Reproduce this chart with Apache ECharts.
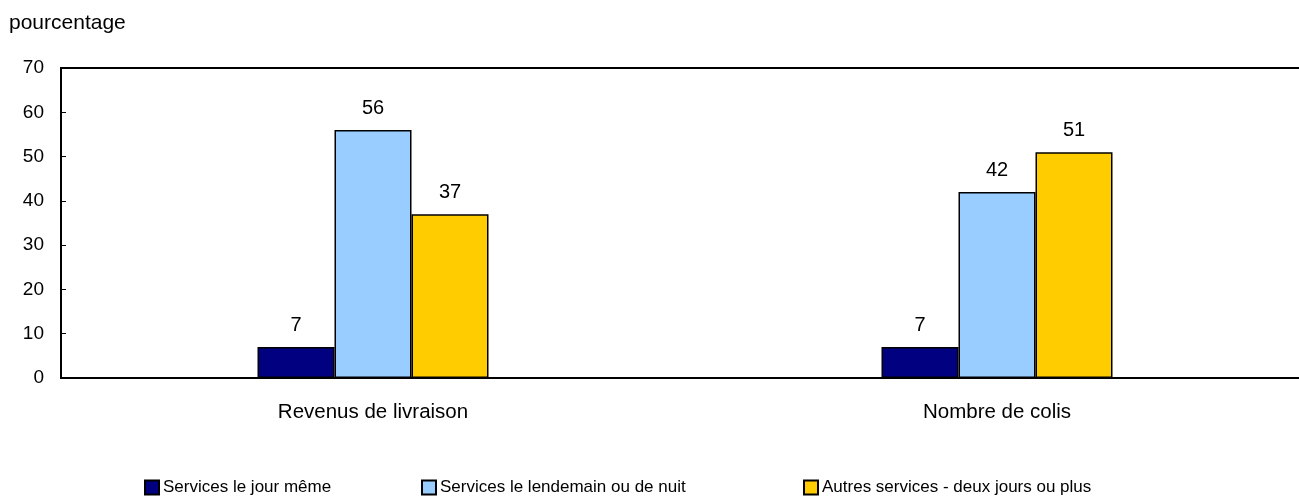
<!DOCTYPE html>
<html>
<head>
<meta charset="utf-8">
<script src="https://cdn.jsdelivr.net/npm/echarts@6/dist/echarts.min.js"></script>
<style>
  html, body { margin: 0; padding: 0; background: #fff; }
  #chart { width: 1299px; height: 497px; }
</style>
</head>
<body>
<div id="chart"></div>
<script>
const categories = ["Revenus de livraison", "Nombre de colis"];
const sameDay = [7, 7];
const nextDay = [56, 42];
const twoPlus = [37, 51];
const seriesNames = [
  "Services le jour même",
  "Services le lendemain ou de nuit",
  "Autres services - deux jours ou plus"
];
const colors = ["#000080", "#99CCFF", "#FFCC00"];

const font = "Liberation Sans, Arial, sans-serif";
const chart = echarts.init(document.getElementById("chart"));

const mkSeries = (name, data, color) => ({
  name: name,
  type: "bar",
  data: data,
  barWidth: 77,
  barGap: "0%",
  itemStyle: { color: color, borderColor: "#000", borderWidth: 1.5 },
  label: {
    show: true, position: "top", distance: 12,
    color: "#000", fontSize: 20, fontFamily: font
  }
});

const mkLegend = (name, left) => ({
  data: [name],
  left: left,
  top: 474,
  itemWidth: 14,
  itemHeight: 14,
  itemGap: 0,
  icon: "rect",
  textStyle: { color: "#000", fontSize: 17, fontFamily: font, padding: [0, 0, 0, -1] }
});

chart.setOption({
  animation: false,
  title: {
    text: "pourcentage",
    left: 4,
    top: 8,
    textStyle: { color: "#000", fontSize: 21, fontWeight: "normal", fontFamily: font }
  },
  legend: [
    mkLegend(seriesNames[0], 139),
    mkLegend(seriesNames[1], 416),
    mkLegend(seriesNames[2], 798)
  ],
  grid: {
    left: 61, top: 68, width: 1248, height: 310,
    outerBoundsMode: "none",
    containLabel: false,
    show: true, borderColor: "#000", borderWidth: 2, backgroundColor: "transparent"
  },
  xAxis: {
    type: "category",
    data: categories,
    axisLine: { show: true, lineStyle: { color: "#000", width: 2 } },
    axisTick: { show: false },
    axisLabel: { color: "#000", fontSize: 20.5, fontFamily: font, margin: 24 }
  },
  yAxis: {
    type: "value",
    min: 0, max: 70, interval: 10,
    axisLine: { show: true, lineStyle: { color: "#000", width: 2 } },
    axisTick: { show: true, inside: true, length: 5, lineStyle: { color: "#000" } },
    axisLabel: { color: "#000", fontSize: 19, fontFamily: font, margin: 17 },
    splitLine: { show: false }
  },
  series: [
    mkSeries(seriesNames[0], sameDay, colors[0]),
    mkSeries(seriesNames[1], nextDay, colors[1]),
    mkSeries(seriesNames[2], twoPlus, colors[2])
  ]
});
</script>
</body>
</html>
